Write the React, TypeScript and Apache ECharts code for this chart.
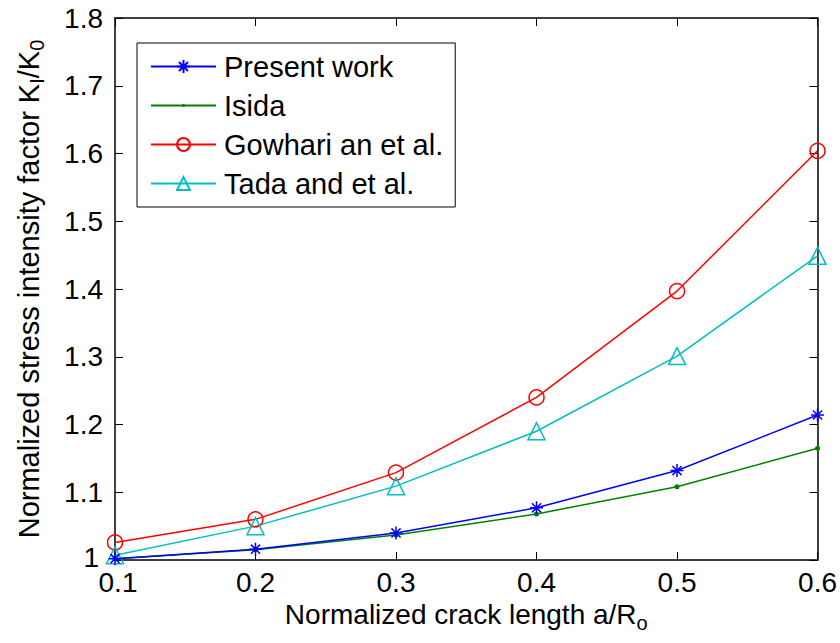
import React, { useEffect, useRef } from "react";
import * as echarts from "echarts";

const xValues = [0.1, 0.2, 0.3, 0.4, 0.5, 0.6];
const presentWork = [1.002, 1.016, 1.04, 1.077, 1.132, 1.214];
const isida = [1.002, 1.015, 1.037, 1.068, 1.108, 1.165];
const gowhari = [1.026, 1.06, 1.129, 1.24, 1.397, 1.604];
const tada = [1.007, 1.05, 1.109, 1.19, 1.301, 1.449];
const seriesNames = ["Present work", "Isida", "Gowhari an et al.", "Tada and et al."];

const FONT = "Liberation Sans, Arial, Helvetica, sans-serif";
const ASTERISK = "path://M0,-1L0,1M-1,0L1,0M-0.7,-0.7L0.7,0.7M-0.7,0.7L0.7,-0.7";
const SMALL_DOT = "path://M-4,-4M4,4M0,-1A1,1,0,1,1,0,1A1,1,0,1,1,0,-1Z";

const pair = (ys: number[]) => xValues.map((x, i) => [x, ys[i]]);

export default function App() {
  const ref = useRef<HTMLDivElement>(null);
  useEffect(() => {
    if (!ref.current) return;
    const chart = echarts.init(ref.current, undefined, { renderer: "svg" });
    const axisCommon = {
      axisLine: { show: true, onZero: false, lineStyle: { color: "#000", width: 1.5 } },
      axisTick: { show: true, inside: true, length: 8, lineStyle: { color: "#000", width: 1 } },
      splitLine: { show: false },
    };
    const tickText = { fontSize: 28, color: "#000", fontFamily: FONT };
    chart.setOption({
      animation: false,
      backgroundColor: "#fff",
      textStyle: { fontFamily: FONT },
      grid: { left: 115, right: 22, top: 18, bottom: 83, containLabel: false },
      legend: {
        orient: "vertical",
        left: 137,
        top: 43,
        data: seriesNames,
        backgroundColor: "#fff",
        borderColor: "#000",
        borderWidth: 1,
        padding: [9, 12, 9, 13],
        itemWidth: 65,
        itemHeight: 16,
        itemGap: 10,
        textStyle: { fontSize: 29, fontFamily: FONT, color: "#000", padding: [0, 0, 0, 3] },
      },
      xAxis: [
        {
          type: "value",
          min: 0.1,
          max: 0.6,
          interval: 0.1,
          position: "bottom",
          name: "Normalized crack length a/{s|R}{sub|o}",
          nameLocation: "middle",
          nameGap: 27,
          nameTextStyle: {
            fontSize: 28,
            color: "#000",
            fontFamily: FONT,
            rich: {
              s: { fontSize: 28, color: "#000", fontFamily: FONT },
              sub: { fontSize: 20, color: "#000", fontFamily: FONT, padding: [16, 0, 0, 0] },
            },
          },
          axisLabel: {
            ...tickText,
            lineHeight: 22,
            margin: 11,
            formatter: (v: number) => {
              const s = String(Math.round(v * 10) / 10);
              return Math.abs(v - 0.1) < 1e-9 ? `{first|${s}}` : s;
            },
            rich: { first: { ...tickText, lineHeight: 22, padding: [0, 0, 0, 6] } },
          },
          ...axisCommon,
        },
        {
          type: "value",
          min: 0.1,
          max: 0.6,
          interval: 0.1,
          position: "top",
          axisLabel: { show: false },
          ...axisCommon,
        },
      ],
      yAxis: [
        {
          type: "value",
          min: 1,
          max: 1.8,
          interval: 0.1,
          position: "left",
          name: "Normalized stress intensity factor K{sub|I}/K{sub|0}",
          nameLocation: "middle",
          nameRotate: 90,
          nameGap: 68,
          nameTextStyle: {
            fontSize: 29,
            color: "#000",
            fontFamily: FONT,
            rich: {
              sub: { fontSize: 20, color: "#000", fontFamily: FONT, padding: [16, 0, 0, 0] },
            },
          },
          axisLabel: {
            ...tickText,
            lineHeight: 22,
            margin: 12,
            formatter: (v: number) => {
              const s = String(Math.round(v * 10) / 10);
              return Math.abs(v - 1) < 1e-9 ? `{first|${s}}` : s;
            },
            rich: { first: { ...tickText, lineHeight: 22, padding: [0, 4, 6, 0] } },
          },
          ...axisCommon,
        },
        {
          type: "value",
          min: 1,
          max: 1.8,
          interval: 0.1,
          position: "right",
          axisLabel: { show: false },
          ...axisCommon,
        },
      ],
      series: [
        {
          name: seriesNames[0],
          type: "line",
          data: pair(presentWork),
          symbol: ASTERISK,
          symbolSize: 13,
          showAllSymbol: true,
          lineStyle: { color: "#0000ff", width: 1.5 },
          itemStyle: { color: "#0000ff", borderColor: "#0000ff", borderWidth: 1.5 },
          z: 4,
        },
        {
          name: seriesNames[1],
          type: "line",
          data: pair(isida),
          symbol: SMALL_DOT,
          symbolSize: 20,
          lineStyle: { color: "#008000", width: 1.5 },
          itemStyle: { color: "#008000", borderWidth: 0 },
          z: 3,
        },
        {
          name: seriesNames[2],
          type: "line",
          data: pair(gowhari),
          symbol: "circle",
          symbolSize: 15,
          lineStyle: { color: "#ff0000", width: 1.5 },
          itemStyle: { color: "transparent", borderColor: "#ff0000", borderWidth: 1.5 },
          z: 2,
        },
        {
          name: seriesNames[3],
          type: "line",
          data: pair(tada),
          symbol: "triangle",
          symbolSize: 17,
          lineStyle: { color: "#00bfbf", width: 1.5 },
          itemStyle: { color: "transparent", borderColor: "#00bfbf", borderWidth: 1.5 },
          z: 2,
        },
      ],
    });
    return () => chart.dispose();
  }, []);
  return <div ref={ref} style={{ width: 840, height: 643, position: "absolute", left: 0, top: 0 }} />;
}
